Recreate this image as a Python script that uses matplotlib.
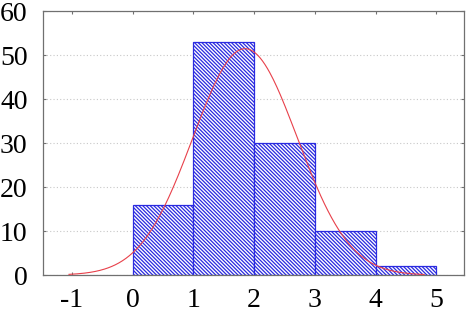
import matplotlib.pyplot as plt
import numpy as np

plt.rcParams['font.family'] = ['Liberation Serif', 'DejaVu Serif']
plt.rcParams['axes.unicode_minus'] = False
plt.rcParams['hatch.linewidth'] = 0.9
plt.rcParams['hatch.color'] = '#2a2ae0'

bin_left = [0, 1, 2, 3, 4]
counts = [16, 53, 30, 10, 2]
mu = 1.85     # fitted normal
sd = 0.86
n_total = sum(counts)

fig = plt.figure(figsize=(4.66, 3.13), dpi=100)
ax = fig.add_axes([0.092, 0.121, 0.903, 0.843])

ax.bar(bin_left, counts, width=1, align='edge', color='white',
       edgecolor='#2a2ae0', linewidth=0.9, hatch='\\' * 9, zorder=2)

x = np.linspace(-1.05, 4.8, 300)
y = n_total / (sd * np.sqrt(2 * np.pi)) * np.exp(-(x - mu) ** 2 / (2 * sd ** 2))
ax.plot(x, y, color='#e8404a', linewidth=0.8, zorder=3)

ax.set_xlim(-1.48, 5.45)
ax.set_ylim(0, 60)
ax.set_xticks(range(-1, 6))
ax.set_yticks(range(0, 61, 10))
ax.yaxis.grid(True, linestyle=(0, (1, 2)), color='#c8c8c8', linewidth=0.8, zorder=0)
ax.set_axisbelow(True)
for s in ax.spines.values():
    s.set_color('#707070')
    s.set_linewidth(0.9)
ax.tick_params(direction='in', length=2, color='#707070', labelsize=20,
               top=True, right=True)
ax.tick_params(axis='x', pad=9)
ax.tick_params(axis='y', pad=11)

fig.savefig('out.png')
